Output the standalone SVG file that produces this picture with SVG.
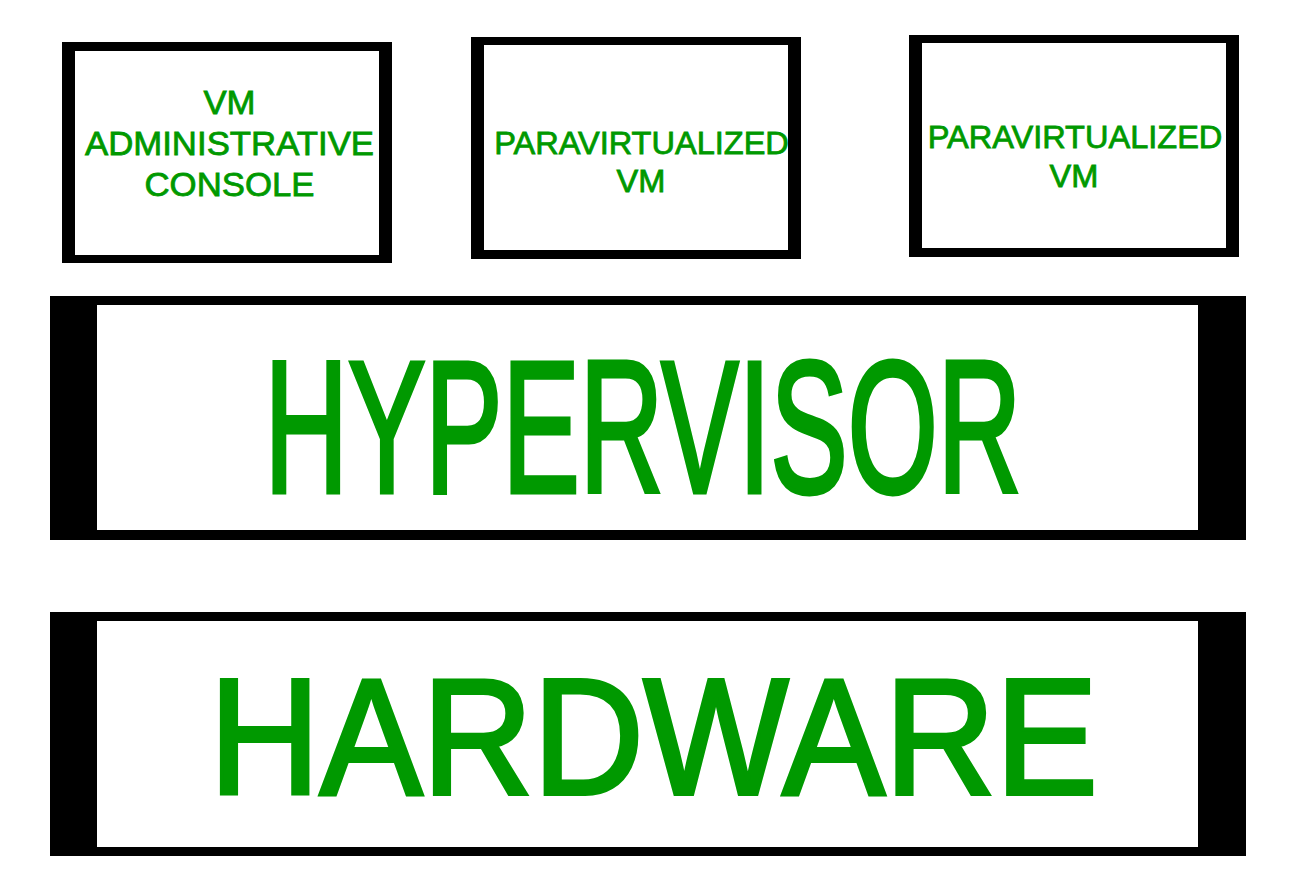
<svg xmlns="http://www.w3.org/2000/svg" width="1306" height="892" viewBox="0 0 1306 892">
<style>
.frame{fill:#000}
.inner{fill:#fff}
.lbl{font-family:"Liberation Sans",Arial,sans-serif;fill:#009900;stroke:#009900;text-anchor:middle;vector-effect:non-scaling-stroke}
.sm{stroke-width:0.8}
.big{stroke-width:4;stroke-linejoin:miter}
</style>
<rect width="1306" height="892" fill="#fff"/>
<g id="vm-admin-console">
<rect class="frame" x="62" y="42" width="330" height="221"/>
<rect class="inner" x="75" y="51" width="304" height="204"/>
<text class="lbl sm" font-size="32.5" transform="translate(229.5,114) scale(1.07,1)" vector-effect="non-scaling-stroke">VM</text>
<text class="lbl sm" font-size="32.5" transform="translate(229.5,155) scale(1.07,1)" vector-effect="non-scaling-stroke">ADMINISTRATIVE</text>
<text class="lbl sm" font-size="32.5" transform="translate(229.5,196) scale(1.07,1)" vector-effect="non-scaling-stroke">CONSOLE</text>
</g>
<g id="paravirtualized-vm-1">
<rect class="frame" x="471" y="37" width="330" height="222"/>
<rect class="inner" x="484" y="45" width="304" height="205"/>
<text class="lbl sm" font-size="31" transform="translate(641.5,154) scale(1.05,1)" vector-effect="non-scaling-stroke">PARAVIRTUALIZED</text>
<text class="lbl sm" font-size="31" transform="translate(641,192) scale(1.05,1)" vector-effect="non-scaling-stroke">VM</text>
</g>
<g id="paravirtualized-vm-2">
<rect class="frame" x="909" y="35" width="330" height="222"/>
<rect class="inner" x="922" y="43" width="304" height="205"/>
<text class="lbl sm" font-size="31" transform="translate(1075,148) scale(1.05,1)" vector-effect="non-scaling-stroke">PARAVIRTUALIZED</text>
<text class="lbl sm" font-size="31" transform="translate(1074,186.5) scale(1.05,1)" vector-effect="non-scaling-stroke">VM</text>
</g>
<g id="hypervisor">
<rect class="frame" x="50" y="296" width="1196" height="244"/>
<rect class="inner" x="97" y="305" width="1101" height="225"/>
<text class="lbl big" font-size="187" transform="translate(643,492) scale(0.619,1)" vector-effect="non-scaling-stroke">HYPERVISOR</text>
</g>
<g id="hardware">
<rect class="frame" x="50" y="612" width="1196" height="244"/>
<rect class="inner" x="97" y="621" width="1101" height="226"/>
<text class="lbl big" font-size="165" transform="translate(653.5,794) scale(0.929,1)" vector-effect="non-scaling-stroke">HARDWARE</text>
</g>
<g id="connectors"></g>
</svg>
